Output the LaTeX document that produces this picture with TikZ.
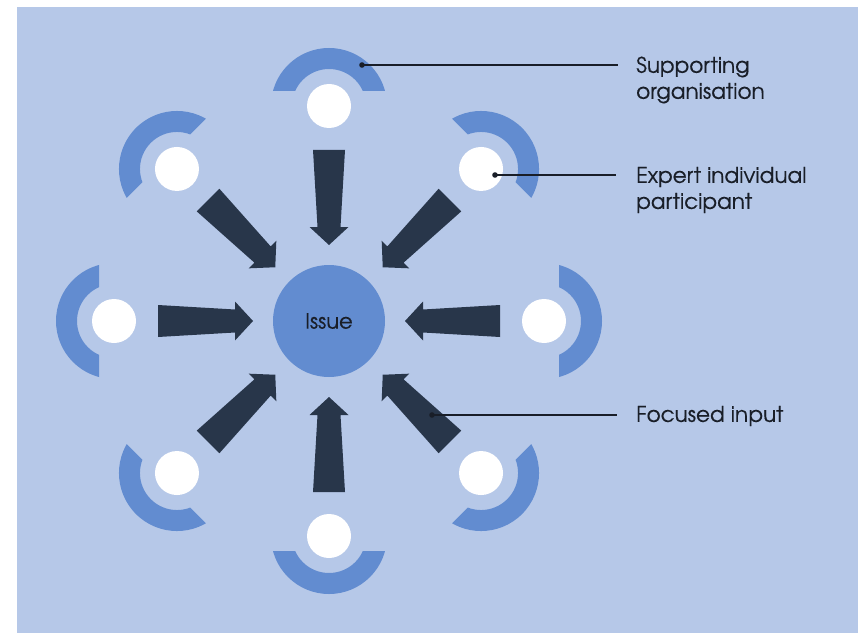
\documentclass[tikz,border=0pt]{standalone}
\usepackage{fontspec}
\setmainfont{TeX Gyre Adventor}[FakeBold=0.4]
\usetikzlibrary{calc}
\definecolor{bgblue}{RGB}{182,200,232}
\definecolor{midblue}{RGB}{98,140,208}
\definecolor{arrowdark}{RGB}{40,54,74}
\definecolor{textdark}{RGB}{25,30,40}
\begin{document}
\begin{tikzpicture}[x=1pt,y=1pt,
  whitedot/.style={circle,fill=white,minimum size=44pt,inner sep=0pt},
  issuenode/.style={circle,fill=midblue,minimum size=112pt,inner sep=0pt,font=\fontsize{21}{24}\selectfont,text=textdark},
  blockarrow/.style={fill=arrowdark},
  arcband/.style={fill=midblue,even odd rule},
  callout/.style={line width=1.2pt,draw=textdark},
  calloutlabel/.style={anchor=west,align=left,text=textdark,font=\fontsize{21.5}{26}\selectfont,inner sep=0pt}]
\useasboundingbox (0,0) rectangle (858,633);
\fill[bgblue] (17,0) rectangle (858,626);
\node[issuenode] (issue) at (329,312) {Issue};
\foreach \a [count=\i from 0] in {0,45,...,315} {
  \begin{scope}[shift={(issue.center)}, rotate=\a]
    \begin{scope}
      \clip (230,-70) rectangle (280,70);
      \fill[arcband] (215,0) circle (58) (215,0) circle (37);
    \end{scope}
    \fill[blockarrow] (171,16) -- (94,11.5) -- (94,19.5) -- (76,0) -- (94,-19.5) -- (94,-11.5) -- (171,-16) -- cycle;
  \end{scope}
  \node[whitedot] (p\i) at ($(issue.center)+(\a:215)$) {};
}
\coordinate (d1) at (362,568);
\coordinate (e1) at (618,568);
\coordinate (d2) at (495,458);
\coordinate (e2) at (616,458);
\coordinate (d3) at (432,218);
\coordinate (e3) at (617,218);
\node[calloutlabel] (l1) at (636,553) {Supporting\\organisation};
\node[calloutlabel] (l2) at (636,443) {Expert individual\\participant};
\node[calloutlabel] (l3) at (636,217) {Focused input};
\draw[callout] (d1) -- (e1);
\draw[callout] (d2) -- (e2);
\draw[callout] (d3) -- (e3);
\fill[textdark] (d1) circle (2.8);
\fill[textdark] (d2) circle (2.8);
\fill[textdark] (d3) circle (2.8);
\end{tikzpicture}
\end{document}
